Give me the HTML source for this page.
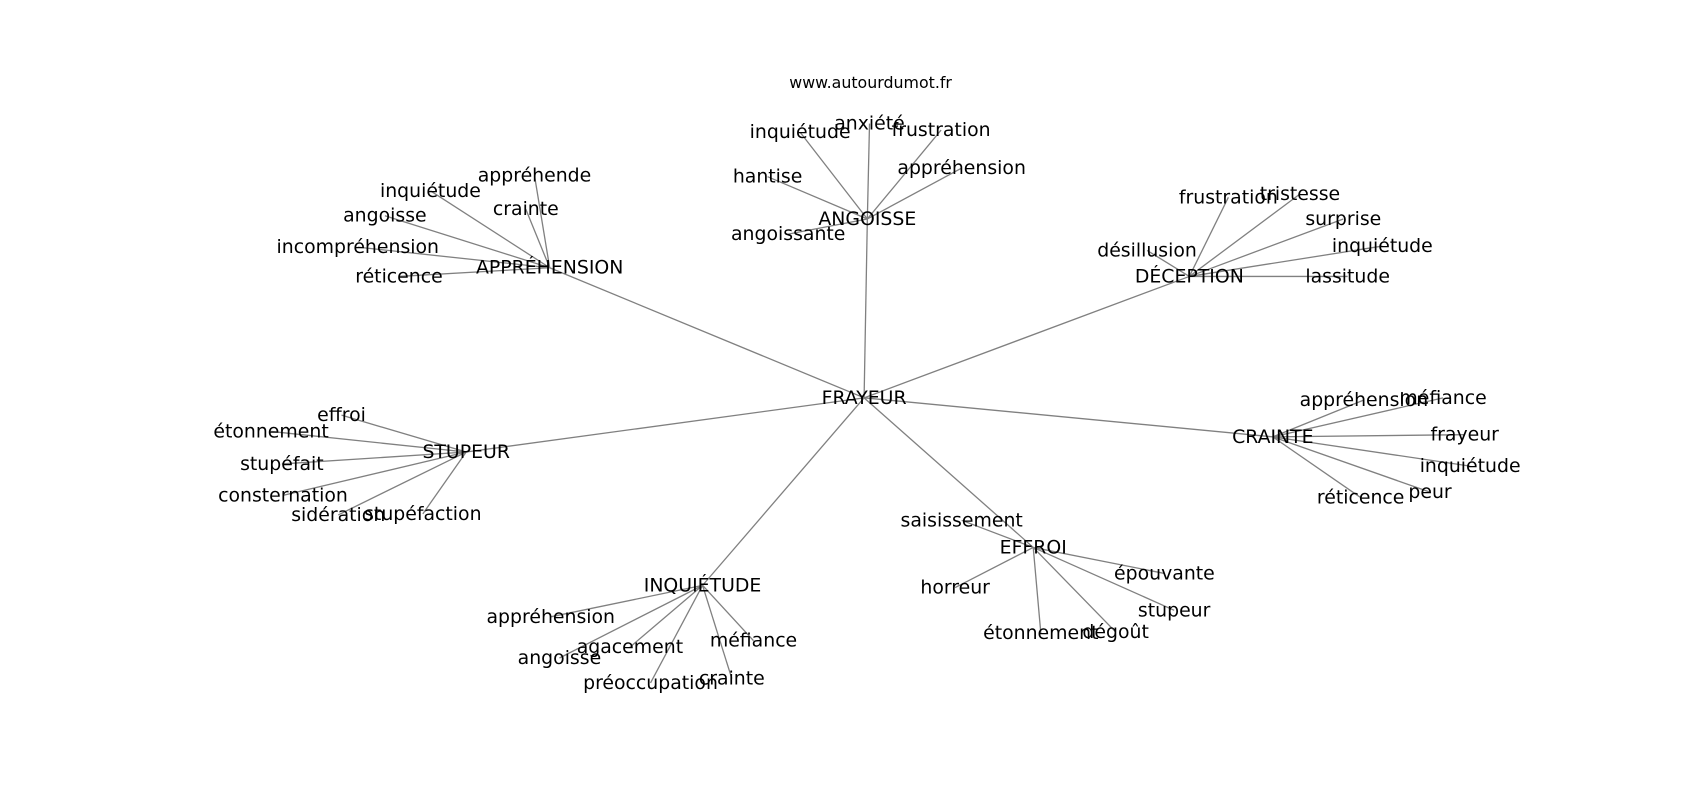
<!DOCTYPE html>
<html><head><meta charset="utf-8"><style>
html,body{margin:0;padding:0;background:#fff;}
svg{display:block;}
svg text{font-family:"DejaVu Sans","Liberation Sans",sans-serif;font-size:17.4px;fill:#000;text-anchor:middle;dominant-baseline:central;}
</style></head><body>
<svg width="1700" height="800" viewBox="0 0 1568 738" preserveAspectRatio="none" xmlns="http://www.w3.org/2000/svg">
<g stroke="#808080" stroke-width="1.2" fill="none">
<line x1="797" y1="367" x2="507" y2="247"/>
<line x1="797" y1="367" x2="800" y2="202"/>
<line x1="797" y1="367" x2="1097" y2="255"/>
<line x1="797" y1="367" x2="430" y2="417"/>
<line x1="797" y1="367" x2="1174" y2="403"/>
<line x1="797" y1="367" x2="648" y2="540"/>
<line x1="797" y1="367" x2="953" y2="505"/>
<line x1="507" y1="247" x2="493" y2="162"/>
<line x1="507" y1="247" x2="485" y2="193"/>
<line x1="507" y1="247" x2="397" y2="176"/>
<line x1="507" y1="247" x2="355" y2="199"/>
<line x1="507" y1="247" x2="330" y2="228"/>
<line x1="507" y1="247" x2="368" y2="255"/>
<line x1="800" y1="202" x2="738" y2="122"/>
<line x1="800" y1="202" x2="802" y2="114"/>
<line x1="800" y1="202" x2="868" y2="120"/>
<line x1="800" y1="202" x2="887" y2="155"/>
<line x1="800" y1="202" x2="708" y2="163"/>
<line x1="800" y1="202" x2="727" y2="216"/>
<line x1="1097" y1="255" x2="1133" y2="182"/>
<line x1="1097" y1="255" x2="1199" y2="179"/>
<line x1="1097" y1="255" x2="1239" y2="202"/>
<line x1="1097" y1="255" x2="1275" y2="227"/>
<line x1="1097" y1="255" x2="1243" y2="255"/>
<line x1="1097" y1="255" x2="1058" y2="231"/>
<line x1="430" y1="417" x2="315" y2="383"/>
<line x1="430" y1="417" x2="250" y2="398"/>
<line x1="430" y1="417" x2="260" y2="428"/>
<line x1="430" y1="417" x2="261" y2="457"/>
<line x1="430" y1="417" x2="312" y2="475"/>
<line x1="430" y1="417" x2="390" y2="474"/>
<line x1="1174" y1="403" x2="1258" y2="369"/>
<line x1="1174" y1="403" x2="1331" y2="367"/>
<line x1="1174" y1="403" x2="1351" y2="401"/>
<line x1="1174" y1="403" x2="1356" y2="430"/>
<line x1="1174" y1="403" x2="1319" y2="454"/>
<line x1="1174" y1="403" x2="1255" y2="459"/>
<line x1="648" y1="540" x2="508" y2="569"/>
<line x1="648" y1="540" x2="516" y2="607"/>
<line x1="648" y1="540" x2="581" y2="597"/>
<line x1="648" y1="540" x2="600" y2="630"/>
<line x1="648" y1="540" x2="675" y2="626"/>
<line x1="648" y1="540" x2="695" y2="591"/>
<line x1="953" y1="505" x2="887" y2="480"/>
<line x1="953" y1="505" x2="881" y2="542"/>
<line x1="953" y1="505" x2="960" y2="584"/>
<line x1="953" y1="505" x2="1029" y2="583"/>
<line x1="953" y1="505" x2="1083" y2="563"/>
<line x1="953" y1="505" x2="1074" y2="529"/>
</g>
<text x="803" y="76" style="font-size:14.6px">www.autourdumot.fr</text>
<text x="797" y="367">FRAYEUR</text>
<text x="507" y="247">APPRÉHENSION</text>
<text x="800" y="202">ANGOISSE</text>
<text x="1097" y="255">DÉCEPTION</text>
<text x="430" y="417">STUPEUR</text>
<text x="1174" y="403">CRAINTE</text>
<text x="648" y="540">INQUIÉTUDE</text>
<text x="953" y="505">EFFROI</text>
<text x="493" y="162">appréhende</text>
<text x="485" y="193">crainte</text>
<text x="397" y="176">inquiétude</text>
<text x="355" y="199">angoisse</text>
<text x="330" y="228">incompréhension</text>
<text x="368" y="255">réticence</text>
<text x="738" y="122">inquiétude</text>
<text x="802" y="114">anxiété</text>
<text x="868" y="120">frustration</text>
<text x="887" y="155">appréhension</text>
<text x="708" y="163">hantise</text>
<text x="727" y="216">angoissante</text>
<text x="1133" y="182">frustration</text>
<text x="1199" y="179">tristesse</text>
<text x="1239" y="202">surprise</text>
<text x="1275" y="227">inquiétude</text>
<text x="1243" y="255">lassitude</text>
<text x="1058" y="231">désillusion</text>
<text x="315" y="383">effroi</text>
<text x="250" y="398">étonnement</text>
<text x="260" y="428">stupéfait</text>
<text x="261" y="457">consternation</text>
<text x="312" y="475">sidération</text>
<text x="390" y="474">stupéfaction</text>
<text x="1258" y="369">appréhension</text>
<text x="1331" y="367">méfiance</text>
<text x="1351" y="401">frayeur</text>
<text x="1356" y="430">inquiétude</text>
<text x="1319" y="454">peur</text>
<text x="1255" y="459">réticence</text>
<text x="508" y="569">appréhension</text>
<text x="516" y="607">angoisse</text>
<text x="581" y="597">agacement</text>
<text x="600" y="630">préoccupation</text>
<text x="675" y="626">crainte</text>
<text x="695" y="591">méfiance</text>
<text x="887" y="480">saisissement</text>
<text x="881" y="542">horreur</text>
<text x="960" y="584">étonnement</text>
<text x="1029" y="583">dégoût</text>
<text x="1083" y="563">stupeur</text>
<text x="1074" y="529">épouvante</text>
</svg>
</body></html>
